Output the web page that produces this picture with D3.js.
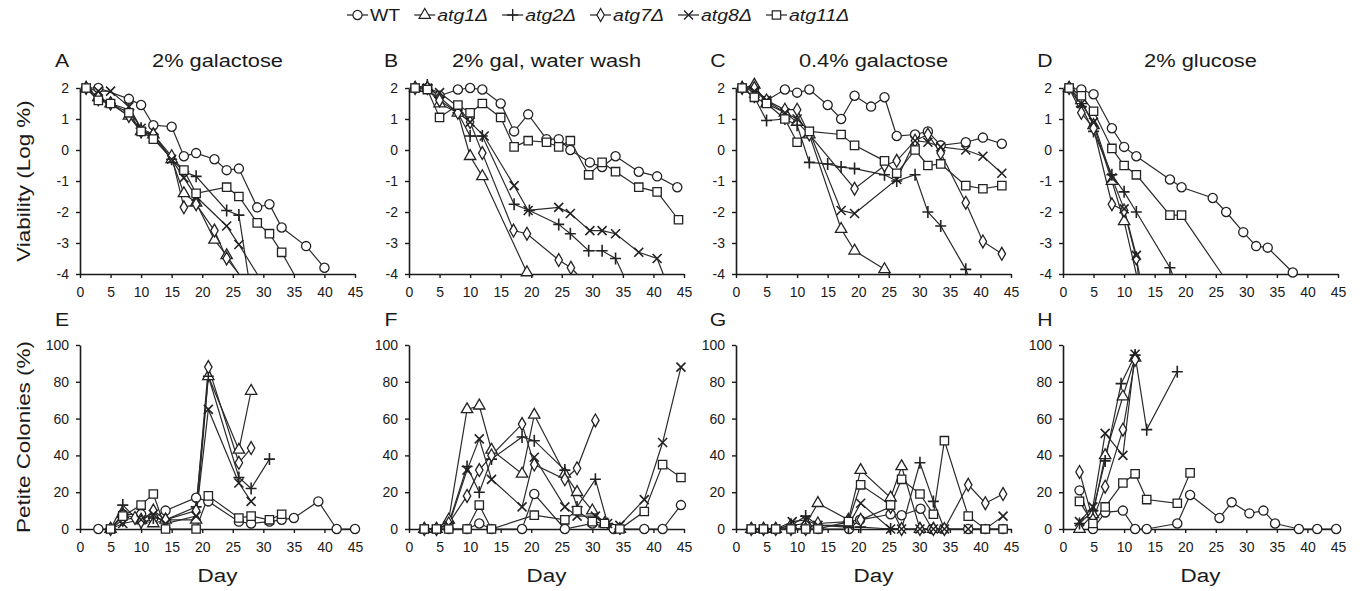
<!DOCTYPE html>
<html>
<head>
<meta charset="utf-8">
<script src="https://cdn.jsdelivr.net/npm/d3@7"></script>
<style>
  body { margin: 0; background: #fff; }
  svg { display: block; }
  text { font-family: "Liberation Sans", Arial, sans-serif; fill: #1a1a1a; }
</style>
</head>
<body>
<svg id="chart" width="1366" height="591"></svg>
<script>
// -------------------- dados --------------------
const strains = ["WT", "atg1Δ", "atg2Δ", "atg7Δ", "atg8Δ", "atg11Δ"];
const dayTicks = [0, 5, 10, 15, 20, 25, 30, 35, 40, 45];
const viabTicks = [-4, -3, -2, -1, 0, 1, 2];
const petiteTicks = [0, 20, 40, 60, 80, 100];
const panelLetters = ["A", "B", "C", "D", "E", "F", "G", "H"];
const panelTitles = ["2% galactose", "2% gal, water wash", "0.4% galactose", "2% glucose"];

// viabilidade (log %), [dia, valor]; -4 = linha sai pelo eixo
const viabA_WT = [[1,2],[3,2],[8,1.65],[10,1.45],[12,0.8],[15,0.75],[17,-0.2],[19,-0.1],[22,-0.3],[24,-0.65],[26,-0.6],[29,-1.85],[31,-1.75],[33,-2.5],[37,-3.1],[40,-3.8]];
const viabA_atg1 = [[1,2],[3,1.7],[5,1.5],[8,1.1],[10,0.6],[12,0.5],[15,-0.3],[17,-1.4],[19,-1.7],[22,-2.9],[24,-3.4],[26,-4]];
const viabA_atg2 = [[1,2],[3,1.6],[5,1.5],[8,1.3],[10,0.7],[12,0.5],[15,-0.3],[17,-0.7],[19,-0.85],[24,-1.95],[26,-2.1],[27.5,-4]];
const viabA_atg7 = [[1,2],[3,1.7],[5,1.5],[8,1.1],[10,0.6],[12,0.5],[15,-0.2],[17,-1.85],[19,-1.75],[22,-2.6],[24,-3.5],[26,-4]];
const viabA_atg8 = [[1,2],[3,1.9],[5,1.9],[8,1.4],[10,0.7],[12,0.4],[15,-0.3],[17,-0.9],[19,-1.5],[24,-2.45],[26,-3.05],[29,-4]];
const viabA_atg11 = [[1,2],[3,1.6],[5,1.5],[8,1.2],[10,0.6],[12,0.35],[17,-0.65],[19,-1.4],[24,-1.2],[26,-1.5],[29,-2.35],[31,-2.7],[33,-3.3],[35,-4]];

const viabB_WT = [[1,2],[3,2],[5,1.75],[8,1.95],[10,2],[12,1.95],[15,1.5],[17.2,0.6],[19.5,1.15],[22.5,0.35],[24.5,0.35],[26.4,0],[29.6,-0.4],[31.6,-0.55],[33.8,-0.2],[37.6,-0.7],[40.6,-0.85],[43.9,-1.2]];
const viabB_atg1 = [[1,2],[3,2],[5,1.5],[8,1.2],[10,-0.2],[12,-0.85],[19.3,-3.95]];
const viabB_atg2 = [[1,2],[3,2.1],[5,1.7],[8,1.2],[10,0.45],[12,0.45],[17.2,-1.75],[19.7,-1.95],[24.5,-2.4],[26.4,-2.7],[29.4,-3.25],[31.6,-3.25],[33.8,-3.5],[35,-4]];
const viabB_atg7 = [[1,2],[3,2],[5,1.6],[8,1.2],[10,0.9],[12,-0.1],[17.1,-2.6],[19.3,-2.7],[24.5,-3.55],[26.5,-3.8],[27.5,-4]];
const viabB_atg8 = [[1,2],[3,2],[5,1.85],[8,1.4],[10,0.9],[12.3,0.45],[17.2,-1.15],[19.5,-1.95],[24.5,-1.85],[26.4,-2.05],[29.6,-2.6],[31.6,-2.6],[33.8,-2.7],[37.6,-3.3],[40.6,-3.5],[41.6,-4]];
const viabB_atg11 = [[1,2],[3,1.95],[5,1.05],[8,1.45],[10,1.2],[12,1.5],[15,1.05],[17.2,0.1],[19.5,0.3],[22.5,0.25],[24.5,0.1],[26.4,0.3],[29.4,-0.8],[31.6,-0.4],[33.8,-0.7],[37.6,-1.2],[40.6,-1.35],[44.1,-2.25]];

const viabC_WT = [[1,2],[3,2],[5,1.6],[8,1.95],[10,1.85],[12,1.95],[15,1.45],[17.2,1.0],[19.4,1.75],[22.1,1.4],[24.3,1.7],[26.3,0.45],[29.3,0.5],[31.4,0.6],[33.5,0.15],[37.6,0.25],[40.4,0.4],[43.5,0.2]];
const viabC_atg1 = [[1,2],[3,2.1],[5,1.5],[8,1.2],[10,0.9],[12,0.5],[17.2,-2.55],[19.4,-3.25],[24.3,-3.85],[25.2,-4]];
const viabC_atg2 = [[1,2],[3,1.7],[5,0.95],[8,1.0],[10,0.8],[12,-0.4],[15,-0.45],[17.2,-0.55],[19.4,-0.6],[24.3,-0.8],[26.3,-1.0],[29.3,-0.8],[31.4,-2.0],[33.5,-2.45],[37.6,-3.85],[37.9,-4]];
const viabC_atg7 = [[1,2],[3,2],[5,1.6],[8,1.3],[10,1.3],[12,0.5],[19.4,-1.25],[24.3,-0.5],[26.3,-0.35],[29.3,0.3],[31.4,0.5],[33.5,-0.1],[37.6,-1.7],[40.4,-2.95],[43.5,-3.35]];
const viabC_atg8 = [[1,2],[3,1.9],[5,1.6],[8,1.2],[10,1.0],[12,0.6],[17.2,-1.95],[19.4,-2.05],[26.3,-0.95],[29.3,0.3],[31.4,0.25],[33.5,0.1],[37.6,0.0],[40.4,-0.2],[43.5,-0.75]];
const viabC_atg11 = [[1,2],[3,1.7],[5,1.5],[8,1.0],[10,0.25],[12,0.6],[17.2,0.5],[19.4,0.15],[24.3,-0.35],[26.3,-0.75],[29.3,0.0],[31.4,-0.5],[33.5,-0.45],[37.6,-1.15],[40.4,-1.25],[43.5,-1.15]];

const viabD_WT = [[1,2],[3,1.95],[5,1.8],[8,0.7],[10,0.1],[12,-0.2],[17.5,-0.95],[19.4,-1.2],[24.5,-1.55],[26.7,-2.0],[29.5,-2.65],[31.6,-3.1],[33.5,-3.15],[37.6,-3.95]];
const viabD_atg1 = [[1,2],[3,1.6],[5,0.8],[8,-1.0],[10,-2.3],[12,-4]];
const viabD_atg2 = [[1,2],[3,1.4],[5,0.6],[8,-0.8],[10,-1.35],[12,-2.0],[17.5,-3.8],[17.9,-4]];
const viabD_atg7 = [[1,2],[3,1.2],[5,0.7],[8,-1.75],[10,-1.95],[12,-3.5],[12.5,-4]];
const viabD_atg8 = [[1,2],[3,1.5],[5,0.9],[8,-0.9],[10,-1.9],[12,-3.4],[12.3,-4]];
const viabD_atg11 = [[1,2],[3,1.75],[5,1.25],[8,0.05],[10,-0.5],[12,-0.8],[17.5,-2.1],[19.4,-2.1],[26,-4]];

// colonias petite (%), [dia, valor]
const petE_WT = [[3,0],[5,0],[7,8],[10,8],[12,6],[14,10],[19,17],[21,15],[26,4],[28,3],[31,4],[33,5],[35,6],[39,15],[42,0],[45,0]];
const petE_atg1 = [[5,0],[7,8],[10,5],[12,3],[14,5],[19,5],[21,83],[26,43],[28,75]];
const petE_atg2 = [[5,0],[7,13],[10,3],[12,6],[14,5],[19,12],[21,83],[26,28],[28,22],[31,38]];
const petE_atg7 = [[5,0],[7,5],[9,6],[10,4],[12,10],[14,5],[19,10],[21,88],[26,36],[28,44]];
const petE_atg8 = [[5,0],[7,3],[10,5],[12,8],[14,3],[19,7],[21,65],[26,25],[28,15]];
const petE_atg11 = [[5,0],[7,7],[10,13],[12,19],[14,0],[19,0],[21,18],[26,6],[28,7],[31,5],[33,8]];

const petF_WT = [[2.5,0],[4.5,0],[6.5,0],[9.5,0],[11.5,3],[13.5,0],[18.5,0],[20.5,19],[25.5,0],[30,3],[33.5,0],[38.5,0],[41.5,0],[44.5,13]];
const petF_atg1 = [[2.5,0],[4.5,0],[6.5,5],[9.5,65],[11.5,67],[13.5,43],[18.5,30],[20.5,62],[25.5,30],[27.5,20],[30,10],[32,3],[34.5,0]];
const petF_atg2 = [[2.5,0],[4.5,0],[6.5,3],[9.5,34],[11.5,20],[13.5,38],[18.5,50],[20.5,48],[25.5,32],[27.5,12],[30.5,27],[32.5,3],[34.5,0]];
const petF_atg7 = [[2.5,0],[4.5,0],[6.5,3],[9.5,18],[11.5,32],[13.5,40],[18.5,57],[20.5,35],[25.5,27],[27.5,33],[30.5,59]];
const petF_atg8 = [[2.5,0],[4.5,0],[6.5,2],[9.5,32],[11.5,49],[13.5,27],[18.5,12],[20.5,39],[25.5,12],[27.5,7],[30.5,7],[32.5,3],[34.5,2],[38.5,16],[41.5,47],[44.5,88]];
const petF_atg11 = [[2.5,0],[4.5,0],[6.5,0],[9.5,0],[11.5,13],[13.5,0],[20.5,7.5],[25.5,5],[27.5,10],[30,4],[32,3],[34.5,0],[38.5,9.5],[41.5,35],[44.5,28]];

const petG_WT = [[2.5,0],[4.5,0],[6.5,0],[9,0],[11.5,0],[13.5,0],[18.5,0],[20.3,5],[25.3,8],[27.1,7.5],[30.2,11],[32.1,0],[34,0],[38,0],[40.8,0],[43.7,0]];
const petG_atg1 = [[2.5,0],[4.5,0],[6.5,0],[9,2],[11.5,3],[13.4,14],[18.4,5],[20.4,32],[25.3,17],[27.1,34],[30.1,0],[32.3,0]];
const petG_atg2 = [[2.5,0],[4.5,0],[6.5,0],[9,2],[11.4,7],[13.4,2],[18.4,1],[20.4,1],[25.3,0],[27.1,0],[30.1,36],[32.3,15],[34.1,0]];
const petG_atg7 = [[2.5,0],[4.5,0],[6.5,0],[9,0],[11.4,0],[13.4,3],[18.4,4],[20.4,5],[25.3,12],[27.1,0],[30.1,0],[32.3,0],[34.1,0],[38,24],[40.8,14],[43.7,19]];
const petG_atg8 = [[2.5,0],[4.5,0],[6.5,0],[9.2,4],[11.4,5],[13.4,2],[18.4,2],[20.4,14],[25.3,0],[27.1,0],[30.1,0],[32.3,0],[34.1,0],[38,0],[40.8,0],[43.7,7]];
const petG_atg11 = [[2.5,0],[4.5,0],[6.5,0],[9,0],[11.4,0],[13.4,0],[18.4,4],[20.4,24],[25.3,13],[27.1,27],[30.1,19],[32.3,8],[34.1,48],[38,7],[40.8,0],[43.7,0]];

const petH_WT = [[2.7,21],[4.9,0],[6.9,9],[9.8,10],[11.8,0],[13.7,0],[18.7,3],[20.8,18.5],[25.6,6],[27.6,14.5],[30.5,8.5],[32.8,10],[34.7,3],[38.6,0],[41.6,0],[44.7,0]];
const petH_atg1 = [[2.7,0],[4.9,8],[6.9,40],[9.8,72],[11.8,93]];
const petH_atg2 = [[2.7,3],[4.9,10],[6.9,37],[9.5,79],[11.8,94.5],[13.7,54],[18.7,85.5]];
const petH_atg7 = [[2.7,31],[4.9,5],[6.9,23],[9.8,54],[11.8,92]];
const petH_atg8 = [[2.7,4],[4.9,12],[6.9,52],[9.8,40],[11.8,95]];
const petH_atg11 = [[2.7,15],[4.9,3],[6.9,12],[9.8,25],[11.8,30],[13.7,16],[18.7,14],[20.8,30.5]];

const panels = [
  [viabA_WT, viabA_atg1, viabA_atg2, viabA_atg7, viabA_atg8, viabA_atg11],
  [viabB_WT, viabB_atg1, viabB_atg2, viabB_atg7, viabB_atg8, viabB_atg11],
  [viabC_WT, viabC_atg1, viabC_atg2, viabC_atg7, viabC_atg8, viabC_atg11],
  [viabD_WT, viabD_atg1, viabD_atg2, viabD_atg7, viabD_atg8, viabD_atg11],
  [petE_WT, petE_atg1, petE_atg2, petE_atg7, petE_atg8, petE_atg11],
  [petF_WT, petF_atg1, petF_atg2, petF_atg7, petF_atg8, petF_atg11],
  [petG_WT, petG_atg1, petG_atg2, petG_atg7, petG_atg8, petG_atg11],
  [petH_WT, petH_atg1, petH_atg2, petH_atg7, petH_atg8, petH_atg11]
];

// -------------------- layout --------------------
const svg = d3.select("#chart");
const colX = [80, 409, 736, 1063];
const plotW = 275;
const rowTop = [88, 345];
const rowBottom = [274, 529];
const ink = "#1a1a1a";
const stretch = 1.18; // texto do original e mais largo

// marcadores: circulo, triangulo, +, losango, x, quadrado
function markerPath(i) {
  switch (i) {
    case 0: return d3.symbol(d3.symbolCircle, 66)();
    case 1: return d3.symbol(d3.symbolTriangle, 56)();
    case 2: return "M-5.5,0H5.5M0,-6V6";
    case 3: return d3.symbol(d3.symbolDiamond, 48)();
    case 4: return "M-4.5,-4.5L4.5,4.5M-4.5,4.5L4.5,-4.5";
    default: return d3.symbol(d3.symbolSquare, 70)();
  }
}
const isStrokeOnly = i => i === 2 || i === 4;

function label(g, txt, x, y, size, opts = {}) {
  const rot = opts.rotate ? ` rotate(${opts.rotate})` : "";
  return g.append("text")
    .attr("transform", `translate(${x},${y})${rot} scale(${stretch},1)`)
    .attr("text-anchor", opts.anchor || "middle")
    .attr("font-size", size + "px")
    .attr("font-style", opts.italic ? "italic" : null)
    .text(txt);
}

function drawPanel(idx) {
  const row = idx < 4 ? 0 : 1;
  const col = idx % 4;
  const x0 = colX[col];
  const x = d3.scaleLinear().domain([0, 45]).range([x0, x0 + plotW]);
  const y = row === 0
    ? d3.scaleLinear().domain([-4, 2]).range([rowBottom[0], rowTop[0]])
    : d3.scaleLinear().domain([0, 100]).range([rowBottom[1], rowTop[1]]);

  const g = svg.append("g");

  // eixos
  const xAxis = g.append("g")
    .attr("transform", `translate(0,${y.range()[0]})`)
    .call(d3.axisBottom(x).tickValues(dayTicks).tickSize(4).tickSizeOuter(0).tickPadding(9));
  const yAxis = g.append("g")
    .attr("transform", `translate(${x0},0)`)
    .call(d3.axisLeft(y).tickValues(row === 0 ? viabTicks : petiteTicks)
      .tickFormat(d => String(d)).tickSize(4).tickSizeOuter(0).tickPadding(7));
  [xAxis, yAxis].forEach(a => {
    a.select(".domain").attr("stroke", ink).attr("stroke-width", 1.6);
    a.selectAll(".tick line").attr("stroke", ink).attr("stroke-width", 1.4);
    a.selectAll(".tick text").attr("font-size", "14px").attr("fill", ink)
      .attr("font-family", '"Liberation Sans", Arial, sans-serif');
  });

  // series
  const line = d3.line().x(d => x(d[0])).y(d => y(d[1]));
  panels[idx].forEach(data => {
    g.append("path")
      .datum(data)
      .attr("d", line)
      .attr("fill", "none")
      .attr("stroke", "#2a2a2a")
      .attr("stroke-width", 1.2);
  });
  panels[idx].forEach((data, si) => {
    const pts = row === 0 ? data.filter(d => d[1] > -4) : data;
    g.selectAll(null)
      .data(pts)
      .join("path")
      .attr("transform", d => `translate(${x(d[0])},${y(d[1])})`)
      .attr("d", markerPath(si))
      .attr("fill", isStrokeOnly(si) ? "none" : "#fff")
      .attr("stroke", "#222")
      .attr("stroke-width", isStrokeOnly(si) ? 1.6 : 1.3);
  });

  // letra e titulo
  if (row === 0) {
    label(g, panelLetters[idx], x0 - 18, 67, 18);
    label(g, panelTitles[col], x0 + plotW / 2, 67, 18.5);
  } else {
    label(g, panelLetters[idx], x0 - 18, 326, 18);
    label(g, "Day", x0 + plotW / 2, 582, 19);
  }
}

d3.range(8).forEach(drawPanel);

// titulos dos eixos y
label(svg, "Viability (Log %)", 30, (rowTop[0] + rowBottom[0]) / 2, 19, { rotate: -90 });
label(svg, "Petite Colonies (%)", 30, (rowTop[1] + rowBottom[1]) / 2, 19, { rotate: -90 });

// -------------------- legenda --------------------
const legend = svg.append("g");
let lx = 347;
strains.forEach((s, i) => {
  const it = legend.append("g");
  it.append("line")
    .attr("x1", lx).attr("x2", lx + 21).attr("y1", 15).attr("y2", 15)
    .attr("stroke", "#222").attr("stroke-width", 1.2);
  it.append("path")
    .attr("transform", `translate(${lx + 10.5},15)`)
    .attr("d", markerPath(i))
    .attr("fill", isStrokeOnly(i) ? "none" : "#fff")
    .attr("stroke", "#222")
    .attr("stroke-width", isStrokeOnly(i) ? 1.4 : 1.2);
  const t = label(it, s, lx + 23, 21, 16.5, { anchor: "start", italic: i > 0 });
  const w = t.node().getComputedTextLength() * stretch;
  lx += 23 + w + 14;
});
</script>
</body>
</html>
